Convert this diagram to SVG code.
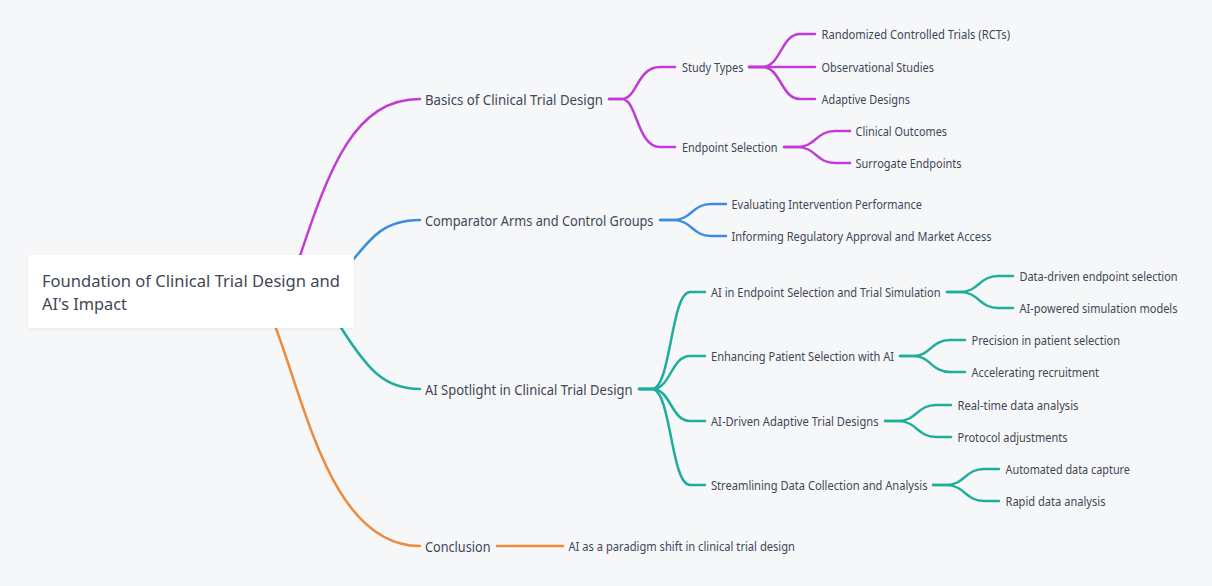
<svg xmlns="http://www.w3.org/2000/svg" width="1212" height="586" viewBox="0 0 1212 586">
<style>
.bg{fill:#f6f7f9}
.lk{fill:none;stroke-width:2.5;stroke-linecap:round}
.p{stroke:#c23bd4}.b{stroke:#3a8ee0}.t{stroke:#1fae9c}.o{stroke:#ef8a3a}
text{font-family:"Noto Sans","DejaVu Sans",sans-serif;fill:#3d4756;dominant-baseline:central}
.l1{font-size:14px}
.l2{font-size:12.5px}
.root{font-size:17px;dominant-baseline:auto}
.box{fill:#ffffff}
</style>
<defs>
<filter id="sh" x="-10%" y="-20%" width="120%" height="140%"><feDropShadow dx="0" dy="1" stdDeviation="1.5" flood-color="#000" flood-opacity="0.06"/></filter>
</defs>
<rect class="bg" x="0" y="0" width="1212" height="586"/>
<g id="connectors">
<path class="lk p" d="M298 262 C330 165 355 99 420 99"/>
<path class="lk b" d="M345 270 C372 235 385 220 420 220"/>
<path class="lk t" d="M335 318 C368 372 385 389 420 389"/>
<path class="lk o" d="M272 318 C305 400 330 546 420 546"/>
<!-- Basics -->
<path class="lk p" d="M609 99 H622 C637 99 637 67 660 67 H675"/>
<path class="lk p" d="M609 99 H622 C637 99 637 147 660 147 H675"/>
<path class="lk p" d="M749 67 H762 C781 67 781 34 800 34 H815"/>
<path class="lk p" d="M749 67 H815"/>
<path class="lk p" d="M749 67 H762 C781 67 781 99 800 99 H815"/>
<path class="lk p" d="M784 147 H797 C816 147 816 131 835 131 H850"/>
<path class="lk p" d="M784 147 H797 C816 147 816 163 835 163 H850"/>
<!-- Comparator -->
<path class="lk b" d="M660 220 H673 C692 220 692 204 711 204 H726"/>
<path class="lk b" d="M660 220 H673 C692 220 692 236 711 236 H726"/>
<!-- AI Spotlight -->
<path class="lk t" d="M639 389 H652 C671 389 671 292 690 292 H705"/>
<path class="lk t" d="M639 389 H652 C671 389 671 356 690 356 H705"/>
<path class="lk t" d="M639 389 H652 C671 389 671 421 690 421 H705"/>
<path class="lk t" d="M639 389 H652 C671 389 671 485 690 485 H705"/>
<path class="lk t" d="M947 292 H960 C979 292 979 276 998 276 H1013"/>
<path class="lk t" d="M947 292 H960 C979 292 979 308 998 308 H1013"/>
<path class="lk t" d="M900 356 H913 C931 356 931 340 950 340 H965"/>
<path class="lk t" d="M900 356 H913 C931 356 931 372 950 372 H965"/>
<path class="lk t" d="M885 421 H898 C917 421 917 405 936 405 H951"/>
<path class="lk t" d="M885 421 H898 C917 421 917 437 936 437 H951"/>
<path class="lk t" d="M933 485 H946 C965 485 965 469 984 469 H999"/>
<path class="lk t" d="M933 485 H946 C965 485 965 501 984 501 H999"/>
<!-- Conclusion -->
<path class="lk o" d="M497 546 H563"/>
</g>
<g id="root">
<rect class="box" x="28" y="255" width="326" height="73" rx="4" filter="url(#sh)"/>
<text class="root" x="42" y="287" textLength="298" lengthAdjust="spacingAndGlyphs">Foundation of Clinical Trial Design and</text>
<text class="root" x="42" y="310" textLength="85" lengthAdjust="spacingAndGlyphs">AI's Impact</text>
</g>
<g id="basics"><text class="l1" x="425" y="99" textLength="178" lengthAdjust="spacingAndGlyphs">Basics of Clinical Trial Design</text></g>
<g id="study-types"><text class="l2" x="682" y="67" textLength="61.5" lengthAdjust="spacingAndGlyphs">Study Types</text></g>
<g id="rcts"><text class="l2" x="821.5" y="34" textLength="188.5" lengthAdjust="spacingAndGlyphs">Randomized Controlled Trials (RCTs)</text></g>
<g id="observational"><text class="l2" x="821.5" y="67" textLength="112.5" lengthAdjust="spacingAndGlyphs">Observational Studies</text></g>
<g id="adaptive"><text class="l2" x="821.5" y="99" textLength="88.5" lengthAdjust="spacingAndGlyphs">Adaptive Designs</text></g>
<g id="endpoint-selection"><text class="l2" x="682" y="147" textLength="95.5" lengthAdjust="spacingAndGlyphs">Endpoint Selection</text></g>
<g id="clinical-outcomes"><text class="l2" x="855.5" y="131" textLength="91.5" lengthAdjust="spacingAndGlyphs">Clinical Outcomes</text></g>
<g id="surrogate"><text class="l2" x="855.5" y="163" textLength="106" lengthAdjust="spacingAndGlyphs">Surrogate Endpoints</text></g>
<g id="comparator"><text class="l1" x="425" y="220" textLength="228.5" lengthAdjust="spacingAndGlyphs">Comparator Arms and Control Groups</text></g>
<g id="evaluating"><text class="l2" x="731.5" y="204" textLength="190.5" lengthAdjust="spacingAndGlyphs">Evaluating Intervention Performance</text></g>
<g id="informing"><text class="l2" x="731.5" y="236" textLength="260" lengthAdjust="spacingAndGlyphs">Informing Regulatory Approval and Market Access</text></g>
<g id="ai-spotlight"><text class="l1" x="425" y="389" textLength="207.5" lengthAdjust="spacingAndGlyphs">AI Spotlight in Clinical Trial Design</text></g>
<g id="ai-endpoint"><text class="l2" x="711" y="292" textLength="229.5" lengthAdjust="spacingAndGlyphs">AI in Endpoint Selection and Trial Simulation</text></g>
<g id="data-driven"><text class="l2" x="1019.5" y="276" textLength="158" lengthAdjust="spacingAndGlyphs">Data-driven endpoint selection</text></g>
<g id="ai-powered"><text class="l2" x="1019.5" y="308" textLength="158" lengthAdjust="spacingAndGlyphs">AI-powered simulation models</text></g>
<g id="enhancing"><text class="l2" x="711" y="356" textLength="183" lengthAdjust="spacingAndGlyphs">Enhancing Patient Selection with AI</text></g>
<g id="precision"><text class="l2" x="971.5" y="340" textLength="148.5" lengthAdjust="spacingAndGlyphs">Precision in patient selection</text></g>
<g id="accelerating"><text class="l2" x="971.5" y="372" textLength="127.5" lengthAdjust="spacingAndGlyphs">Accelerating recruitment</text></g>
<g id="ai-driven"><text class="l2" x="711" y="421" textLength="167.5" lengthAdjust="spacingAndGlyphs">AI-Driven Adaptive Trial Designs</text></g>
<g id="real-time"><text class="l2" x="957.5" y="405" textLength="121" lengthAdjust="spacingAndGlyphs">Real-time data analysis</text></g>
<g id="protocol"><text class="l2" x="957.5" y="437" textLength="110" lengthAdjust="spacingAndGlyphs">Protocol adjustments</text></g>
<g id="streamlining"><text class="l2" x="711" y="485" textLength="216.5" lengthAdjust="spacingAndGlyphs">Streamlining Data Collection and Analysis</text></g>
<g id="automated"><text class="l2" x="1005.5" y="469" textLength="124.5" lengthAdjust="spacingAndGlyphs">Automated data capture</text></g>
<g id="rapid"><text class="l2" x="1005.5" y="501" textLength="100" lengthAdjust="spacingAndGlyphs">Rapid data analysis</text></g>
<g id="conclusion"><text class="l1" x="425" y="546" textLength="65.5" lengthAdjust="spacingAndGlyphs">Conclusion</text></g>
<g id="paradigm"><text class="l2" x="568.5" y="546" textLength="226.5" lengthAdjust="spacingAndGlyphs">AI as a paradigm shift in clinical trial design</text></g>
</svg>
